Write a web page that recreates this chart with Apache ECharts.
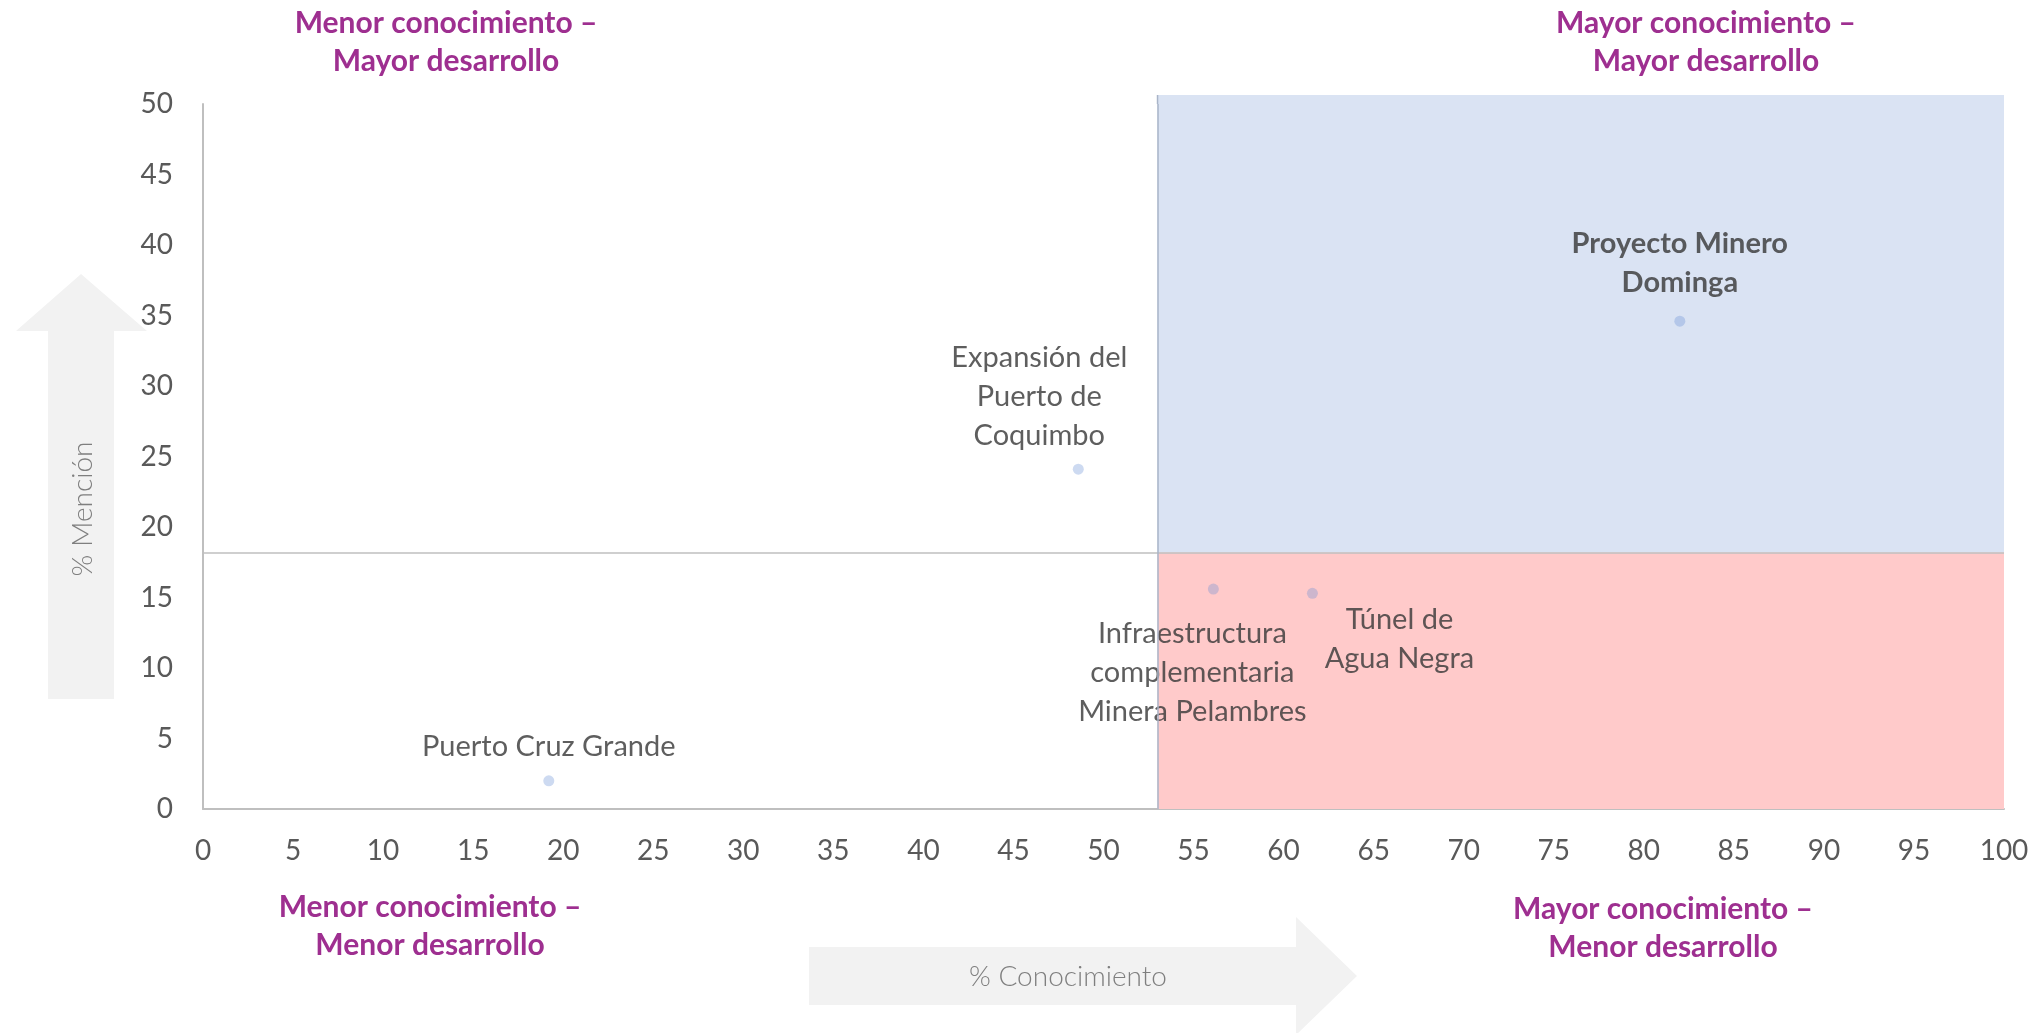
<!DOCTYPE html>
<html>
<head>
<meta charset="utf-8">
<script src="https://cdn.jsdelivr.net/npm/echarts@6/dist/echarts.min.js"></script>
<style>
    html, body {margin: 0; padding: 0; background: #fff;}
    #chart {width: 2037px; height: 1033px;}
</style>
</head>
<body>
<div id="chart"></div>
<script>
//datos del gráfico
var proyectos = ['Proyecto Minero\nDominga', 'Expansión del\nPuerto de\nCoquimbo', 'Infraestructura\ncomplementaria\nMinera Pelambres', 'Túnel de\nAgua Negra', 'Puerto Cruz Grande'];
var conocimiento = [82.0, 48.6, 56.1, 61.6, 19.2];
var mencion = [34.6, 24.1, 15.6, 15.3, 2.0];
//cortes de los cuadrantes
var corteConocimiento = 53;
var corteMencion = 18.2;
var cuadrantes = ['Menor conocimiento –\nMayor desarrollo', 'Mayor conocimiento –\nMayor desarrollo',
    'Menor conocimiento –\nMenor desarrollo', 'Mayor conocimiento –\nMenor desarrollo'];
var ejeX = '% Conocimiento';
var ejeY = '% Mención';

//desplazamiento de cada etiqueta respecto al punto
var desplazamientos = [[0, -58], [-39, -73], [-21, 84], [87, 46], [0, -34]];

var fuente = 'Lato, "Noto Sans", sans-serif';
var morado = '#9e2f90';

var puntos = [];
for (var i = 0; i < proyectos.length; i++) {
    puntos.push({
        name: proyectos[i],
        value: [conocimiento[i], mencion[i]],
        label: {
            offset: desplazamientos[i],
            fontWeight: i === 0 ? 'bold' : 'normal'
        }
    });
}

function textoCuadrante(id, txt, x, y) {
    return {
        id: id, type: 'text', x: x, y: y, z: 10,
        style: {
            text: txt, fill: morado, font: 'bold 30px ' + fuente,
            align: 'center', verticalAlign: 'top', lineHeight: 38
        }
    };
}

var myChart = echarts.init(document.getElementById('chart'));
myChart.setOption({
    animation: false,
    grid: {left: 203, right: 33, top: 104, bottom: 224},
    xAxis: {
        type: 'value', min: 0, max: 100, interval: 5,
        axisLine: {lineStyle: {color: '#bfbfbf', width: 2}},
        axisTick: {show: false},
        splitLine: {show: false},
        axisLabel: {color: '#595959', fontSize: 28, fontFamily: fuente, margin: 28}
    },
    yAxis: {
        type: 'value', min: 0, max: 50, interval: 5,
        axisLine: {show: true, lineStyle: {color: '#bfbfbf', width: 2}},
        axisTick: {show: false},
        splitLine: {show: false},
        axisLabel: {color: '#595959', fontSize: 28, fontFamily: fuente, margin: 30}
    },
    graphic: [
        //flecha vertical
        {
            id: 'flechaY', type: 'polygon', z: 0,
            shape: {points: [[81, 274], [147, 331], [114, 331], [114, 699], [48, 699], [48, 331], [16, 331]]},
            style: {fill: '#f2f2f2'}
        },
        {
            id: 'textoY', type: 'text', x: 83, y: 509, rotation: Math.PI / 2, z: 1,
            style: {text: ejeY, fill: '#7f7f7f', font: '300 28px ' + fuente, align: 'center', verticalAlign: 'middle'}
        },
        //flecha horizontal
        {
            id: 'flechaX', type: 'polygon', z: 0,
            shape: {points: [[809, 947], [1296, 947], [1296, 917], [1357, 976], [1296, 1035], [1296, 1005], [809, 1005]]},
            style: {fill: '#f2f2f2'}
        },
        {
            id: 'textoX', type: 'text', x: 1068, y: 977, z: 1,
            style: {text: ejeX, fill: '#7f7f7f', font: '300 28px ' + fuente, align: 'center', verticalAlign: 'middle'}
        },
        textoCuadrante('c1', cuadrantes[0], 446, 4),
        textoCuadrante('c2', cuadrantes[1], 1706, 4),
        textoCuadrante('c3', cuadrantes[2], 430, 888),
        textoCuadrante('c4', cuadrantes[3], 1663, 890)
    ],
    series: [{
        type: 'scatter',
        symbolSize: 11,
        itemStyle: {color: 'rgba(100,140,210,0.4)'},
        label: {
            show: true,
            position: 'inside',
            formatter: '{b}',
            color: '#363636',
            fontSize: 29,
            fontFamily: fuente,
            lineHeight: 39,
            align: 'center',
            verticalAlign: 'middle'
        },
        data: puntos,
        markArea: {
            silent: true,
            data: [
                [{xAxis: corteConocimiento, yAxis: corteMencion, itemStyle: {color: '#dae3f3'}}, {xAxis: 100, yAxis: 50}],
                [{xAxis: corteConocimiento, yAxis: 0, itemStyle: {color: '#ffcaca'}}, {xAxis: 100, yAxis: corteMencion}]
            ]
        },
        markLine: {
            silent: true,
            symbol: 'none',
            label: {show: false},
            data: [
                {yAxis: corteMencion, lineStyle: {color: '#bfbfbf', width: 1.5, type: 'solid'}},
                {xAxis: corteConocimiento, lineStyle: {color: '#a9b4c8', width: 1.5, type: 'solid'}}
            ]
        }
    }]
});

//el cuadrante azul sobresale un poco por encima del eje
var esq1 = myChart.convertToPixel({gridIndex: 0}, [corteConocimiento, 50]);
var esq2 = myChart.convertToPixel({gridIndex: 0}, [100, 50]);
myChart.setOption({
    graphic: [{
        id: 'extAzul', type: 'rect', z: 1,
        shape: {x: esq1[0], y: esq1[1] - 9, width: esq2[0] - esq1[0], height: 9},
        style: {fill: '#dae3f3'}
    }, {
        id: 'extLinea', type: 'line', z: 1,
        shape: {x1: esq1[0], y1: esq1[1] - 9, x2: esq1[0], y2: esq1[1]},
        style: {stroke: '#a9b4c8', lineWidth: 1.5}
    }]
});
</script>
</body>
</html>
